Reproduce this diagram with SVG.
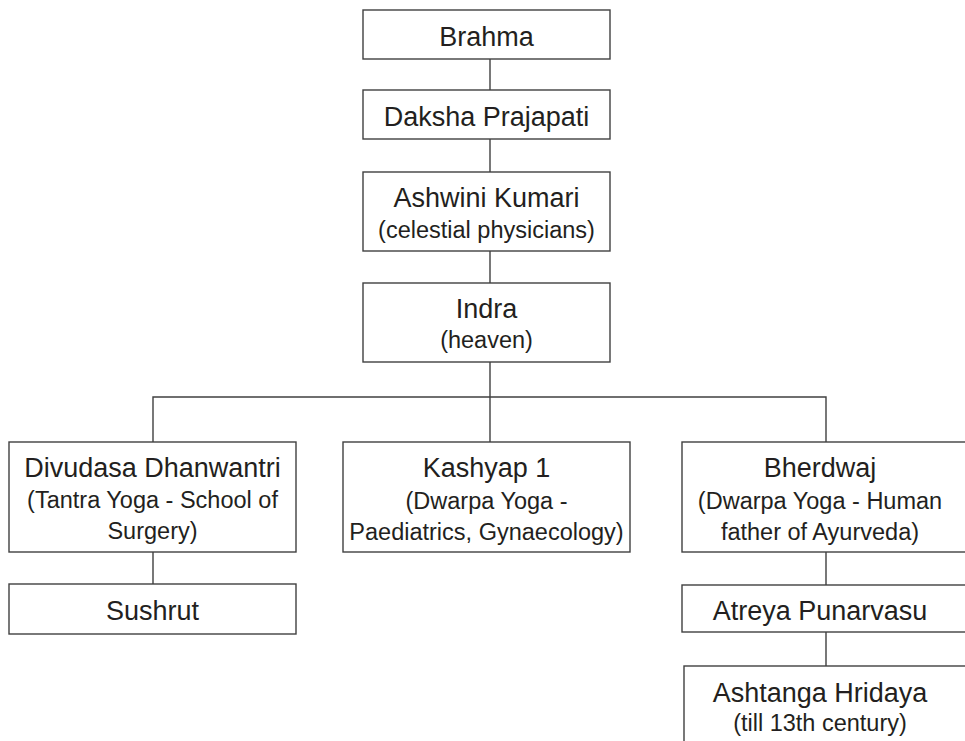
<svg xmlns="http://www.w3.org/2000/svg" width="965" height="741" viewBox="0 0 965 741">
<style>
.box{fill:#fff;stroke:#404040;stroke-width:1.4}
.ln{stroke:#404040;stroke-width:1.4;fill:none}
.t{font-family:"Liberation Sans",Arial,sans-serif;font-size:27px;fill:#231f20;text-anchor:middle}
.s{font-family:"Liberation Sans",Arial,sans-serif;font-size:23.5px;fill:#231f20;text-anchor:middle}
</style>
<rect width="965" height="741" fill="#fff"/>
<g id="connectors">
<path class="ln" d="M490 59V90M490 139V172M490 251V283M490 362V442M153 442V397H826V442M153 552V584M826 552V585M826 632V666"/>
</g>
<g id="brahma"><rect class="box" x="363" y="10" width="247" height="49"/><text class="t" x="486.5" y="46">Brahma</text></g>
<g id="daksha"><rect class="box" x="363" y="90" width="247" height="49"/><text class="t" x="486.5" y="126">Daksha Prajapati</text></g>
<g id="ashwini"><rect class="box" x="363" y="172" width="247" height="79"/><text class="t" x="486.5" y="207">Ashwini Kumari</text><text class="s" x="486.5" y="238">(celestial physicians)</text></g>
<g id="indra"><rect class="box" x="363" y="283" width="247" height="79"/><text class="t" x="486.5" y="318">Indra</text><text class="s" x="486.5" y="348">(heaven)</text></g>
<g id="divudasa"><rect class="box" x="9" y="442" width="287" height="110"/><text class="t" x="152.5" y="477">Divudasa Dhanwantri</text><text class="s" x="152.5" y="508">(Tantra Yoga - School of</text><text class="s" x="152.5" y="539">Surgery)</text></g>
<g id="kashyap"><rect class="box" x="343" y="442" width="287" height="110"/><text class="t" x="486.5" y="477">Kashyap 1</text><text class="s" x="486.5" y="509">(Dwarpa Yoga -</text><text class="s" x="486.5" y="540">Paediatrics, Gynaecology)</text></g>
<g id="bherdwaj"><rect class="box" x="682" y="442" width="290" height="110"/><text class="t" x="820" y="477">Bherdwaj</text><text class="s" x="820" y="509">(Dwarpa Yoga - Human</text><text class="s" x="820" y="540">father of Ayurveda)</text></g>
<g id="sushrut"><rect class="box" x="9" y="584" width="287" height="50"/><text class="t" x="152.5" y="620">Sushrut</text></g>
<g id="atreya"><rect class="box" x="682" y="585" width="290" height="47"/><text class="t" x="820" y="620">Atreya Punarvasu</text></g>
<g id="ashtanga"><rect class="box" x="684" y="666" width="290" height="90"/><text class="t" x="820" y="702">Ashtanga Hridaya</text><text class="s" x="820" y="731">(till 13th century)</text></g>
</svg>
